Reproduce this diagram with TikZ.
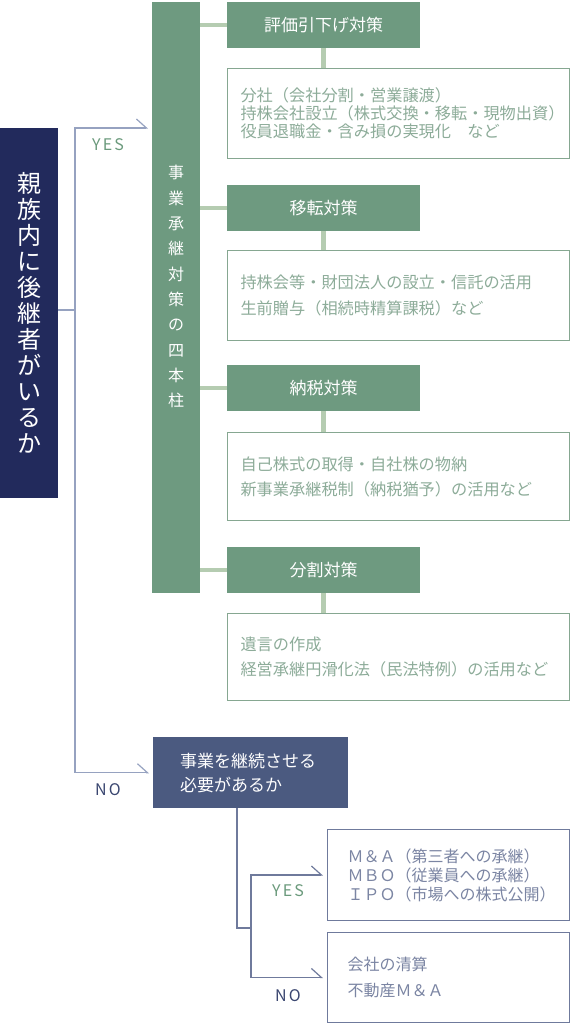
\documentclass[tikz,border=0pt]{standalone}
\usepackage{fontspec}
\setmainfont{Noto Sans CJK JP}
\usepackage{tikz}
\usetikzlibrary{arrows.meta, positioning, calc}
\usepackage{xcolor}
\definecolor{navydark}{HTML}{222A5C}
\definecolor{navybox}{HTML}{4B5A80}
\definecolor{pillargreen}{HTML}{6E9A80}
\definecolor{linkgreen}{HTML}{B5CCB1}
\definecolor{itemline}{HTML}{86A791}
\definecolor{itemtext}{HTML}{8DAC99}
\definecolor{trunkblue}{HTML}{96A2C0}
\definecolor{subblue}{HTML}{6F7A9C}
\definecolor{resulttext}{HTML}{7B85A3}
\definecolor{yesgreen}{HTML}{6B9A7C}
\definecolor{nonavy}{HTML}{3A4670}

\begin{document}
\begin{tikzpicture}[x=1pt, y=-1pt,
  greenbox/.style={fill=pillargreen, text=white, inner sep=0pt, anchor=north west,
    minimum width=193pt, minimum height=46pt, font=\fontsize{17}{20}\selectfont},
  itembox/.style={draw=itemline, line width=1pt, fill=white, anchor=north west,
    inner xsep=13pt, inner ysep=0pt, text width=316pt, align=left, text=itemtext},
  resultbox/.style={draw=subblue, line width=1pt, fill=white, anchor=north west,
    inner xsep=20pt, inner ysep=0pt, text width=202pt, align=left, text=resulttext},
  linkbar/.style={draw=linkgreen, line width=4.5pt},
  branch/.style={draw=trunkblue, line width=1.2pt, shorten >=4pt,
    -{Straight Barb[harpoon, length=10pt, width=18pt]}},
  subbranch/.style={draw=subblue, line width=1.2pt, shorten >=4pt,
    -{Straight Barb[harpoon, length=10pt, width=18pt]}},
  answer/.style={font=\fontsize{16}{18}\selectfont\addfontfeature{LetterSpace=14}}]
  \useasboundingbox (0,0) rectangle (570,1024);

  % question
  \node[fill=navydark, text=white, anchor=north west, inner sep=0pt,
    minimum width=58pt, minimum height=370pt, align=center,
    font=\fontsize{24}{26}\selectfont]
  (q1) at (0,128) {親\\族\\内\\に\\後\\継\\者\\が\\い\\る\\か};

  % four pillars
  \node[fill=pillargreen, anchor=north west, inner sep=0pt,
    minimum width=48pt, minimum height=591pt] (pillar) at (152,2) {};
  \node[text=white, align=center, font=\fontsize{16}{25.3}\selectfont]
  (pillartext) at ($(pillar.center)+(0,-11)$) {事\\業\\承\\継\\対\\策\\の\\四\\本\\柱};

  \node[greenbox] (h1) at (227,2) {評価引下げ対策};
  \node[greenbox] (h2) at (227,185) {移転対策};
  \node[greenbox] (h3) at (227,365) {納税対策};
  \node[greenbox] (h4) at (227,547) {分割対策};

  \node[itembox, minimum height=90pt, font=\fontsize{16.2}{18}\selectfont]
  (c1) at (227,68) {分社（会社分割・営業譲渡）\\持株会社設立（株式交換・移転・現物出資）\\役員退職金・含み損の実現化　など};
  \node[itembox, minimum height=90pt, font=\fontsize{16.2}{26}\selectfont]
  (c2) at (227,250) {持株会等・財団法人の設立・信託の活用\\生前贈与（相続時精算課税）など};
  \node[itembox, minimum height=88pt, font=\fontsize{16.2}{25}\selectfont]
  (c3) at (227,432) {自己株式の取得・自社株の物納\\新事業承継税制（納税猶予）の活用など};
  \node[itembox, minimum height=87pt, font=\fontsize{16.2}{25}\selectfont]
  (c4) at (227,613) {遺言の作成\\経営承継円滑化法（民法特例）の活用など};

  \foreach \i in {1,...,4} {
    \draw[linkbar] (pillar.east |- h\i.west) -- (h\i.west);
    \draw[linkbar] (h\i.south) -- (h\i.south |- c\i.north);
  }

  % no successor
  \node[fill=navybox, text=white, anchor=north west, inner xsep=27pt, inner ysep=0pt,
    text width=141pt, minimum height=71pt, align=left, font=\fontsize{17}{24}\selectfont]
  (q2) at (153,737) {事業を継続させる\\必要があるか};

  \node[resultbox, minimum height=91pt, font=\fontsize{16}{19}\selectfont]
  (r1) at (327,829) {Ｍ＆Ａ（第三者への承継）\\ＭＢＯ（従業員への承継）\\ＩＰＯ（市場への株式公開）};
  \node[resultbox, minimum height=90pt, font=\fontsize{16}{26}\selectfont]
  (r2) at (327,932) {会社の清算\\不動産Ｍ＆Ａ};

  % connectors
  \coordinate (jL) at (75,310);
  \coordinate (yesEnd) at (152,128);
  \draw[branch] (q1.east |- jL) -- (jL) |- (yesEnd);
  \draw[branch] (jL) |- (q2.west);

  \coordinate (jB) at (237,928);
  \coordinate (jB2) at (251,928);
  \draw[draw=subblue, line width=1.2pt] (q2.south -| jB) -- (jB) -- (jB2);
  \draw[subbranch] (jB2) |- (r1.west);
  \draw[subbranch] (jB2) |- (r2.west);

  \node[answer, text=yesgreen] (yes1) at (108,145) {YES};
  \node[answer, text=nonavy] (no1) at (108,790) {NO};
  \node[answer, text=yesgreen] (yes2) at (288,891) {YES};
  \node[answer, text=nonavy] (no2) at (288,996) {NO};
\end{tikzpicture}
\end{document}
